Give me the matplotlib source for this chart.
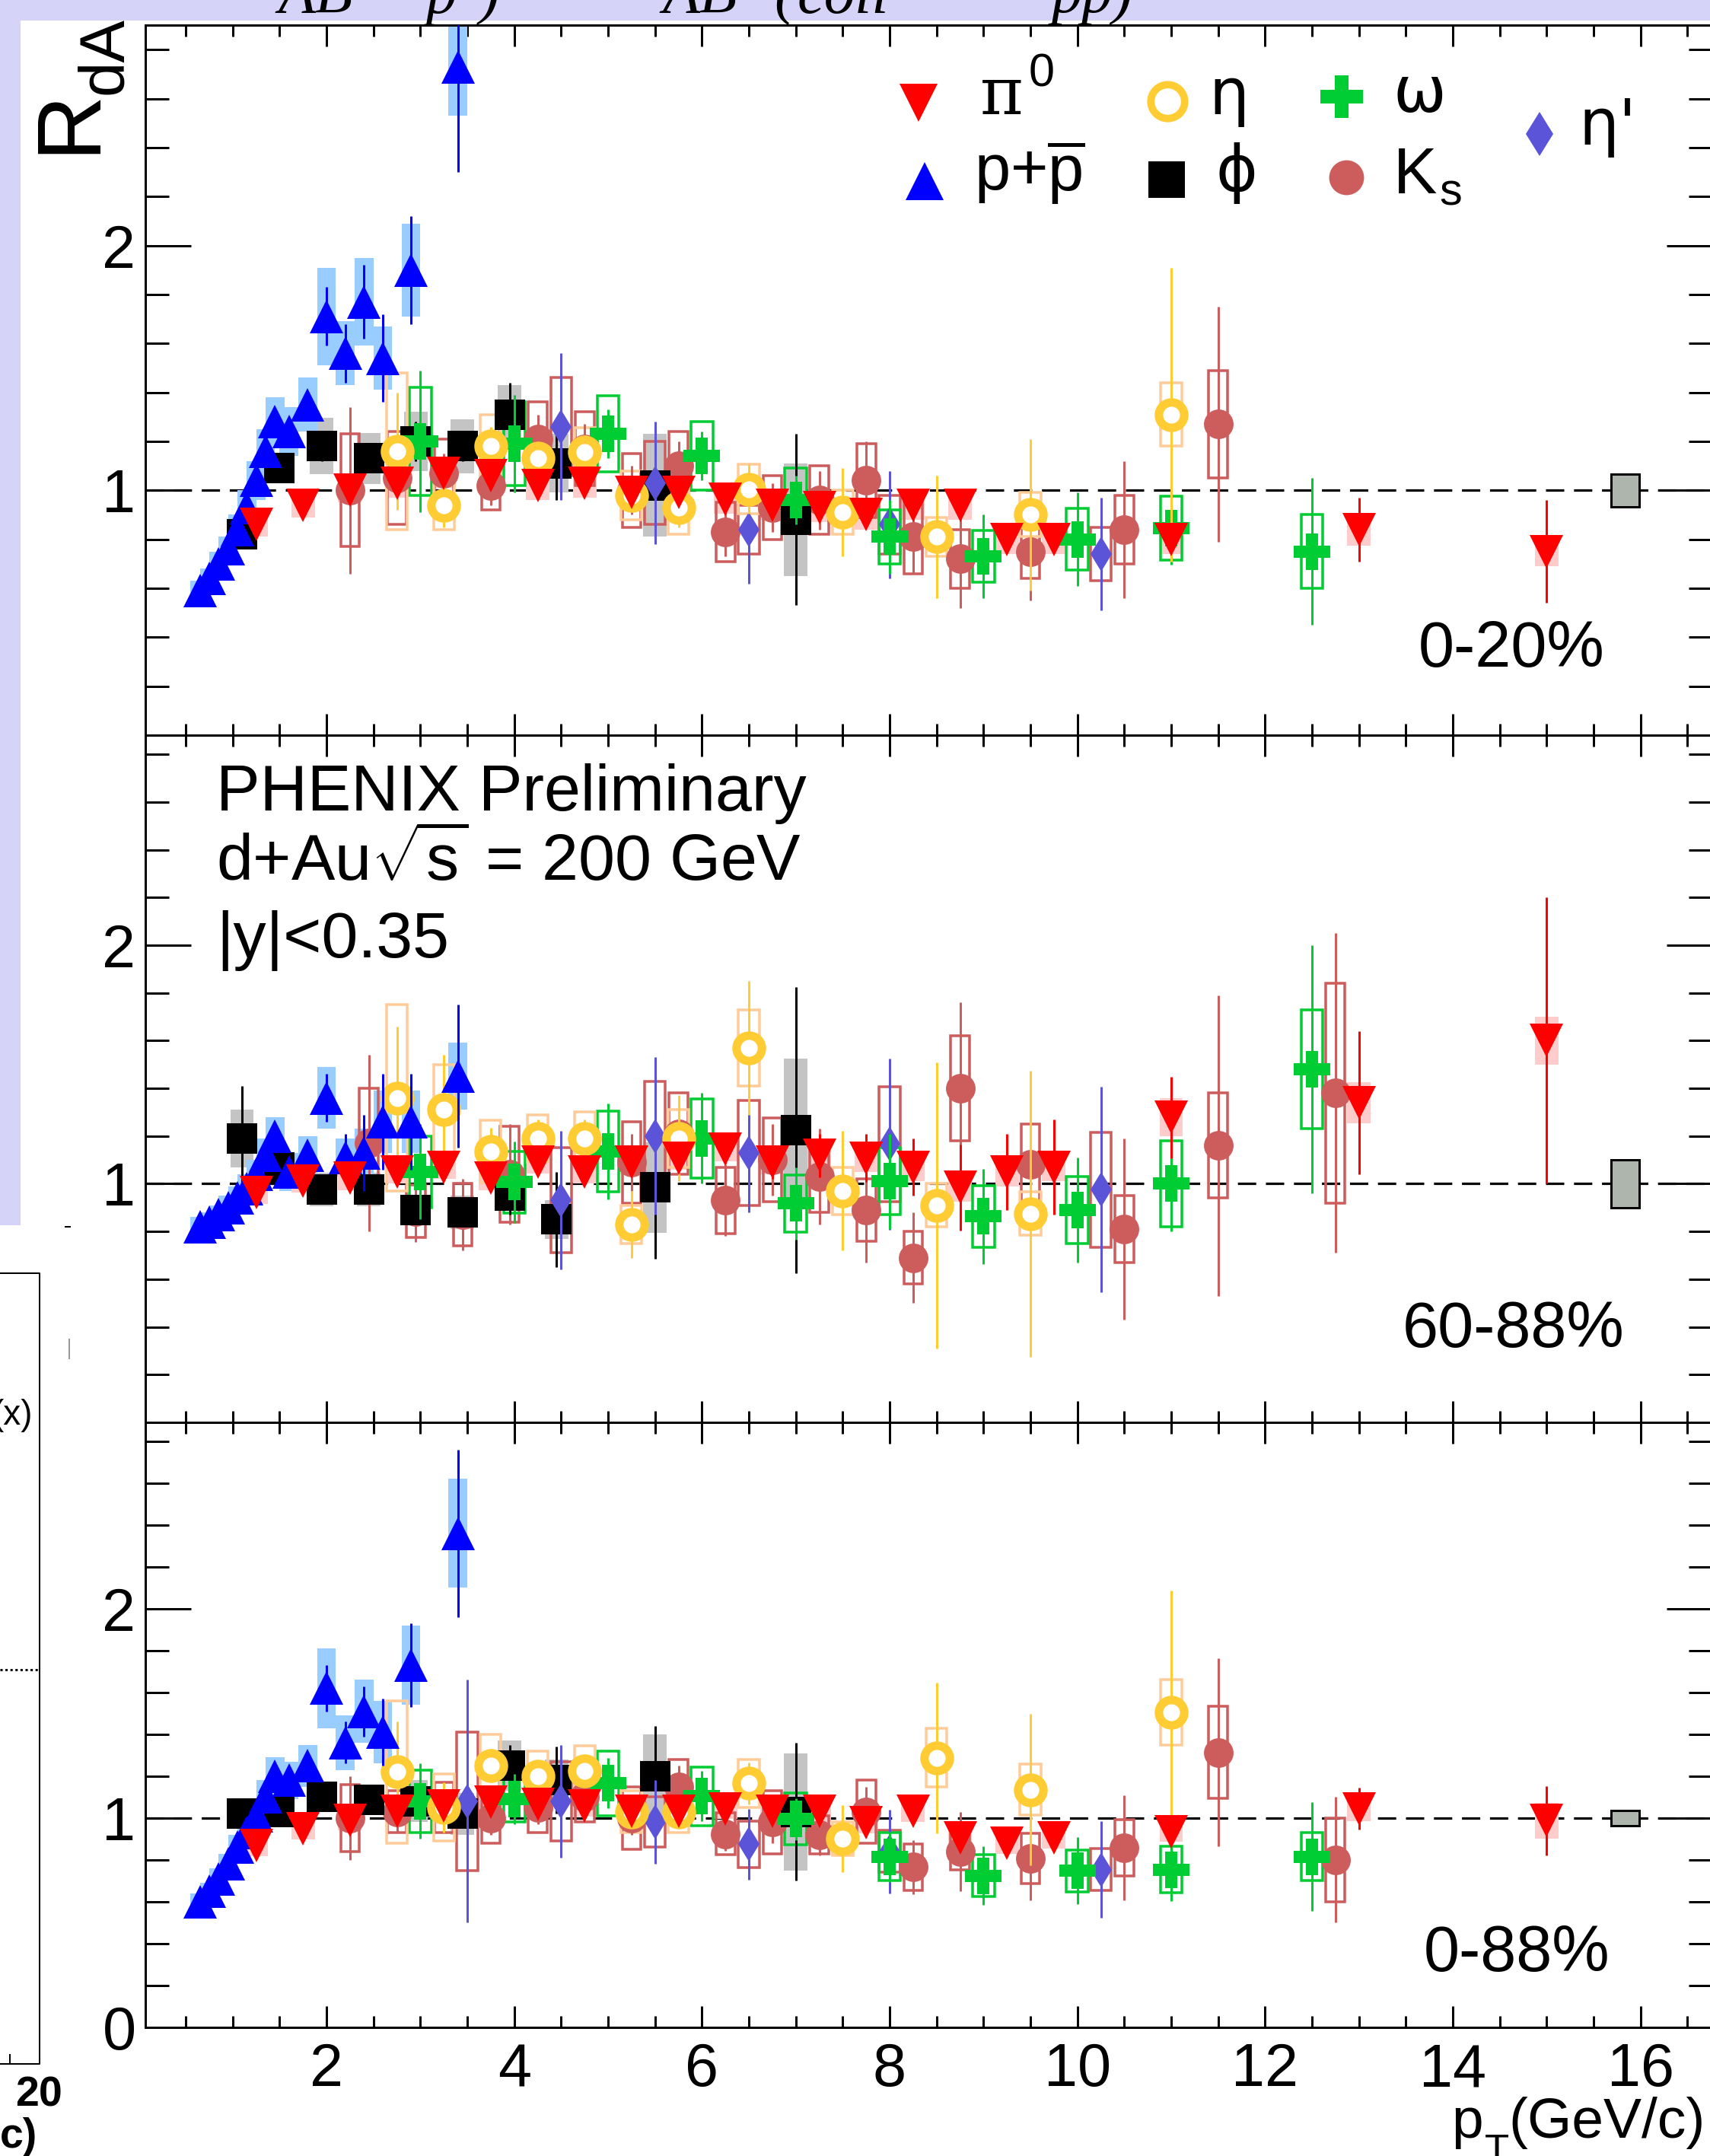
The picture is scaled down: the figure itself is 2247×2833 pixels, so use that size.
import matplotlib
matplotlib.use("Agg")
import matplotlib.pyplot as plt
from matplotlib.patches import Rectangle
from matplotlib.ticker import MultipleLocator, FixedLocator, FixedFormatter

plt.rcParams['font.family'] = ['Liberation Sans', 'DejaVu Sans']
plt.rcParams['mathtext.fontset'] = 'custom'
plt.rcParams['mathtext.rm'] = 'Liberation Sans'
plt.rcParams['mathtext.it'] = 'Liberation Sans:italic'
plt.rcParams['mathtext.bf'] = 'Liberation Sans:bold'

# ============================ DATA ============================
PANEL_LABELS = ["0-20%", "60-88%", "0-88%"]
NORM_PT = 15.84
NORM_UNC = [0.066, 0.10, 0.037]

# pi0
PI0_PT = [1.25, 1.75, 2.25, 2.75, 3.25, 3.75, 4.25, 4.75, 5.25, 5.75, 6.25, 6.75,
          7.25, 7.75, 8.25, 8.75, 9.25, 9.75, 11.0, 13.0, 15.0]
PI0_R_0020 = [0.86, 0.94, 1.00, 1.03, 1.07, 1.06, 1.02, 1.03, 0.99, 0.99, 0.965, 0.94,
              0.93, 0.90, 0.94, 0.94, 0.80, 0.80, 0.80, 0.84, 0.75]
PI0_STAT_0020 = [0.01, 0.01, 0.01, 0.01, 0.01, 0.01, 0.01, 0.01, 0.01, 0.01, 0.02, 0.02,
                 0.02, 0.02, 0.02, 0.03, 0.03, 0.03, 0.05, 0.13, 0.21]
PI0_SYS_0020 = [0.05, 0.05, 0.05, 0.06, 0.06, 0.06, 0.06, 0.06, 0.06, 0.06, 0.06, 0.06,
                0.06, 0.06, 0.06, 0.06, 0.06, 0.06, 0.06, 0.065, 0.06]
PI0_R_6088 = [0.964, 1.012, 1.023, 1.05, 1.07, 1.023, 1.092, 1.05, 1.09, 1.108, 1.145, 1.09,
              1.118, 1.108, 1.07, 0.985, 1.05, 1.07, 1.278, 1.34, 1.60]
PI0_STAT_6088 = [0.01, 0.01, 0.01, 0.02, 0.02, 0.02, 0.03, 0.03, 0.04, 0.05, 0.06, 0.07,
                 0.09, 0.10, 0.12, 0.18, 0.16, 0.20, 0.17, 0.30, 0.60]
PI0_SYS_6088 = [0.05, 0.05, 0.05, 0.05, 0.05, 0.05, 0.05, 0.05, 0.05, 0.05, 0.05, 0.05,
                0.06, 0.06, 0.06, 0.06, 0.06, 0.06, 0.08, 0.085, 0.10]
PI0_R_0088 = [0.869, 0.948, 0.99, 1.033, 1.057, 1.075, 1.064, 1.057, 1.033, 1.033, 1.045, 1.033,
              1.033, 0.978, 1.033, 0.905, 0.88, 0.905, 0.936, 1.045, 0.988]
PI0_STAT_0088 = [0.01, 0.01, 0.01, 0.01, 0.01, 0.01, 0.01, 0.01, 0.01, 0.01, 0.01, 0.02,
                 0.02, 0.02, 0.02, 0.03, 0.03, 0.03, 0.04, 0.10, 0.165]
PI0_SYS_0088 = [0.05, 0.05, 0.05, 0.05, 0.05, 0.05, 0.05, 0.05, 0.05, 0.05, 0.05, 0.05,
                0.05, 0.05, 0.05, 0.05, 0.05, 0.05, 0.05, 0.06, 0.085]

# p + pbar
P_PT = [0.65, 0.75, 0.85, 0.95, 1.05, 1.15, 1.25, 1.35, 1.45, 1.6, 1.8, 2.0, 2.2, 2.4, 2.6, 2.9, 3.4]
P_R_0020 = [0.59, 0.64, 0.70, 0.76, 0.84, 0.93, 1.04, 1.16, 1.28, 1.24, 1.35, 1.71, 1.56, 1.77, 1.54, 1.90, 2.73]
P_STAT_0020 = [0.01, 0.01, 0.01, 0.01, 0.01, 0.01, 0.01, 0.02, 0.02, 0.03, 0.05, 0.12, 0.12, 0.15, 0.18, 0.22, 0.43]
P_SYS_0020 = [0.04, 0.04, 0.05, 0.05, 0.06, 0.07, 0.08, 0.09, 0.10, 0.10, 0.11, 0.20, 0.13, 0.18, 0.13, 0.19, 0.20]
P_R_6088 = [0.82, 0.84, 0.87, 0.90, 0.94, 0.98, 1.04, 1.12, 1.20, 1.05, 1.12, 1.36, 1.11, 1.13, 1.26, 1.26, 1.45]
P_STAT_6088 = [0.01, 0.01, 0.01, 0.01, 0.01, 0.01, 0.02, 0.02, 0.02, 0.03, 0.04, 0.10, 0.10, 0.16, 0.20, 0.20, 0.30]
P_SYS_6088 = [0.04, 0.04, 0.04, 0.05, 0.05, 0.06, 0.06, 0.07, 0.08, 0.08, 0.08, 0.13, 0.08, 0.10, 0.13, 0.13, 0.14]
P_R_0088 = [0.60, 0.65, 0.71, 0.78, 0.86, 0.93, 1.01, 1.10, 1.20, 1.18, 1.25, 1.62, 1.36, 1.51, 1.41, 1.73, 2.36]
P_STAT_0088 = [0.01, 0.01, 0.01, 0.01, 0.01, 0.01, 0.01, 0.02, 0.02, 0.03, 0.04, 0.11, 0.10, 0.12, 0.16, 0.20, 0.40]
P_SYS_0088 = [0.04, 0.04, 0.05, 0.05, 0.06, 0.06, 0.07, 0.08, 0.09, 0.09, 0.10, 0.19, 0.13, 0.15, 0.15, 0.19, 0.26]

# eta
ETA_PT_0020 = [2.75, 3.25, 3.75, 4.25, 4.75, 5.25, 5.75, 6.5, 7.5, 8.5, 9.5, 11.0]
ETA_R_0020 = [1.16, 0.94, 1.18, 1.13, 1.155, 0.98, 0.93, 1.005, 0.91, 0.81, 0.90, 1.31]
ETA_STAT_0020 = [0.24, 0.09, 0.08, 0.06, 0.07, 0.06, 0.08, 0.10, 0.18, 0.25, 0.31, 0.60]
ETA_SYS_0020 = [0.32, 0.10, 0.13, 0.08, 0.10, 0.10, 0.11, 0.10, 0.09, 0.08, 0.09, 0.13]
ETA_PT_6088 = [2.75, 3.25, 3.75, 4.25, 4.75, 5.25, 5.75, 6.5, 7.5, 8.5, 9.5]
ETA_R_6088 = [1.36, 1.31, 1.135, 1.19, 1.19, 0.83, 1.19, 1.57, 0.97, 0.91, 0.875]
ETA_STAT_6088 = [0.30, 0.23, 0.10, 0.08, 0.08, 0.14, 0.18, 0.28, 0.25, 0.60, 0.60]
ETA_SYS_6088 = [0.39, 0.19, 0.13, 0.10, 0.11, 0.08, 0.12, 0.16, 0.10, 0.09, 0.09]
ETA_PT_0088 = [2.75, 3.25, 3.75, 4.25, 4.75, 5.25, 5.75, 6.5, 7.5, 8.5, 9.5, 11.0]
ETA_R_0088 = [1.22, 1.05, 1.25, 1.20, 1.226, 1.03, 1.03, 1.166, 0.90, 1.287, 1.136, 1.505]
ETA_STAT_0088 = [0.24, 0.12, 0.08, 0.06, 0.06, 0.06, 0.08, 0.10, 0.16, 0.36, 0.36, 0.58]
ETA_SYS_0088 = [0.34, 0.16, 0.15, 0.12, 0.12, 0.10, 0.10, 0.115, 0.08, 0.14, 0.12, 0.155]

# phi
PHI_PT = [1.1, 1.5, 1.95, 2.45, 2.95, 3.45, 3.95, 4.45, 5.5, 7.0]
PHI_R_0020 = [0.82, 1.09, 1.18, 1.13, 1.20, 1.18, 1.31, 1.11, 1.02, 0.88]
PHI_STAT_0020 = [0.06, 0.05, 0.06, 0.05, 0.08, 0.06, 0.13, 0.15, 0.18, 0.35]
PHI_SYS_0020 = [0.05, 0.05, 0.115, 0.105, 0.12, 0.11, 0.12, 0.12, 0.21, 0.23]
PHI_R_6088 = [1.19, 1.07, 0.975, 0.975, 0.89, 0.88, 0.95, 0.85, 0.985, 1.225]
PHI_STAT_6088 = [0.22, 0.05, 0.06, 0.06, 0.06, 0.06, 0.08, 0.20, 0.30, 0.60]
PHI_SYS_6088 = [0.12, 0.05, 0.07, 0.07, 0.05, 0.07, 0.06, 0.08, 0.19, 0.30]
PHI_R_0088 = [1.02, 1.03, 1.10, 1.087, 1.08, 1.02, 1.25, 1.18, 1.20, 1.03]
PHI_STAT_0088 = [0.04, 0.04, 0.05, 0.05, 0.06, 0.06, 0.10, 0.16, 0.24, 0.33]
PHI_SYS_0088 = [0.05, 0.05, 0.07, 0.07, 0.10, 0.10, 0.12, 0.10, 0.20, 0.28]

# omega
OMEGA_PT = [3.0, 4.0, 5.0, 6.0, 7.0, 8.0, 9.0, 10.0, 11.0, 12.5]
OMEGA_R_0020 = [1.20, 1.19, 1.23, 1.14, 0.96, 0.81, 0.73, 0.80, 0.845, 0.75]
OMEGA_STAT_0020 = [0.29, 0.20, 0.10, 0.10, 0.10, 0.15, 0.17, 0.19, 0.15, 0.30]
OMEGA_SYS_0020 = [0.22, 0.17, 0.155, 0.14, 0.13, 0.11, 0.105, 0.125, 0.13, 0.15]
OMEGA_R_6088 = [1.05, 1.007, 1.135, 1.19, 0.917, 1.01, 0.863, 0.89, 1.00, 1.48]
OMEGA_STAT_6088 = [0.20, 0.17, 0.20, 0.19, 0.15, 0.20, 0.20, 0.22, 0.20, 0.52]
OMEGA_SYS_6088 = [0.15, 0.13, 0.17, 0.165, 0.12, 0.14, 0.13, 0.14, 0.18, 0.25]
OMEGA_R_0088 = [1.08, 1.09, 1.166, 1.105, 0.996, 0.815, 0.724, 0.748, 0.754, 0.815]
OMEGA_STAT_0088 = [0.18, 0.12, 0.12, 0.12, 0.10, 0.12, 0.14, 0.16, 0.15, 0.26]
OMEGA_SYS_0088 = [0.15, 0.11, 0.155, 0.14, 0.125, 0.115, 0.10, 0.10, 0.11, 0.115]

# K_s
KS_PT_0020 = [2.25, 2.75, 3.25, 3.75, 4.25, 4.75, 5.25, 5.75, 6.25, 6.75, 7.25, 7.75,
              8.25, 8.75, 9.5, 10.5, 11.5]
KS_R_0020 = [1.00, 1.05, 1.07, 1.02, 1.21, 1.17, 1.00, 1.10, 0.83, 0.93, 0.96, 1.04,
             0.81, 0.72, 0.75, 0.84, 1.27]
KS_STAT_0020 = [0.34, 0.10, 0.08, 0.08, 0.10, 0.10, 0.10, 0.10, 0.10, 0.10, 0.12, 0.16,
                0.15, 0.20, 0.20, 0.28, 0.48]
KS_SYS_0020 = [0.23, 0.19, 0.14, 0.10, 0.15, 0.15, 0.15, 0.14, 0.12, 0.13, 0.14, 0.15,
               0.15, 0.12, 0.11, 0.14, 0.22]
KS_PT_6088 = [2.45, 2.95, 3.45, 3.95, 5.25, 5.75, 6.25, 6.75, 7.25, 7.75, 8.25, 8.75,
              9.5, 10.5, 11.5, 12.75]
KS_R_6088 = [1.17, 0.885, 0.87, 1.04, 1.09, 1.21, 0.93, 1.10, 1.03, 0.89, 0.69, 1.40,
             1.08, 0.81, 1.16, 1.38]
KS_STAT_6088 = [0.37, 0.13, 0.15, 0.21, 0.12, 0.15, 0.15, 0.15, 0.20, 0.22, 0.19, 0.36,
                0.30, 0.38, 0.63, 0.67]
KS_SYS_6088 = [0.23, 0.11, 0.13, 0.20, 0.17, 0.17, 0.14, 0.175, 0.15, 0.13, 0.11, 0.22,
               0.17, 0.14, 0.22, 0.46]
KS_PT_0088 = [2.25, 2.75, 3.25, 3.75, 4.25, 4.75, 5.25, 5.75, 6.25, 6.75, 7.25, 7.75,
              8.25, 8.75, 9.5, 10.5, 11.5, 12.75]
KS_R_0088 = [1.00, 1.03, 1.05, 1.00, 1.05, 1.10, 1.00, 1.15, 0.924, 0.98, 0.92, 1.03,
             0.766, 0.839, 0.808, 0.857, 1.314, 0.80]
KS_STAT_0088 = [0.20, 0.10, 0.08, 0.08, 0.08, 0.08, 0.08, 0.10, 0.08, 0.10, 0.10, 0.12,
                0.13, 0.19, 0.20, 0.25, 0.45, 0.30]
KS_SYS_0088 = [0.16, 0.10, 0.12, 0.12, 0.12, 0.12, 0.15, 0.13, 0.10, 0.15, 0.09, 0.15,
               0.11, 0.085, 0.12, 0.135, 0.22, 0.20]

# eta'
ETAP_PT_0020 = [4.5, 5.5, 6.5, 8.0, 10.25]
ETAP_R_0020 = [1.26, 1.03, 0.84, 0.86, 0.74]
ETAP_STAT_0020 = [0.30, 0.25, 0.22, 0.22, 0.23]
ETAP_SYS_0020 = [0.20, 0.17, 0.10, 0.12, 0.11]
ETAP_PT_6088 = [4.5, 5.5, 6.5, 8.0, 10.25]
ETAP_R_6088 = [0.93, 1.20, 1.13, 1.166, 0.975]
ETAP_STAT_6088 = [0.29, 0.33, 0.25, 0.36, 0.43]
ETAP_SYS_6088 = [0.22, 0.23, 0.22, 0.24, 0.24]
ETAP_PT_0088 = [3.5, 4.5, 5.5, 6.5, 8.0, 10.25]
ETAP_R_0088 = [1.08, 1.08, 0.98, 0.875, 0.84, 0.754]
ETAP_STAT_0088 = [0.58, 0.27, 0.20, 0.17, 0.20, 0.23]
ETAP_SYS_0088 = [0.33, 0.19, 0.12, 0.11, 0.10, 0.10]

# ============================ STYLE ============================
W, H = 2247, 2833
DPI = 100
PX = 72.0 / DPI  # points per pixel

STYLES = {
    'ks':    dict(marker='o', ms=28, mfc='#cd5c5c', mec='#cd5c5c', mew=0, ecol='#cd5c5c',
                  box='open', boxcol='#cd5c5c', hw=0.10, z=4),
    'phi':   dict(marker='s', ms=29, mfc='black', mec='black', mew=0, ecol='black',
                  box='fill', boxcol='#c4c4c4', hw=0.125, z=4.2),
    'etap':  dict(marker='d', ms=23, mfc='#5b54d8', mec='#5b54d8', mew=0, ecol='#5b54d8',
                  box='open', boxcol='#cd5c5c', hw=0.11, z=4.4),
    'omega': dict(marker='P', ms=35, mfc='#00cc33', mec='#00cc33', mew=0, ecol='#00cc33',
                  box='open', boxcol='#00cc33', hw=0.115, z=4.6),
    'eta':   dict(marker='o', ms=24, mfc='white', mec='#ffcc33', mew=8.0, ecol='#ffcc33',
                  box='open', boxcol='#ffcc99', hw=0.11, z=4.8),
    'p':     dict(marker='^', ms=31, mfc='#0000ff', mec='#0000ff', mew=0, ecol='#0000ff',
                  box='fill', boxcol='#99ccff', hw=0.10, z=5.0),
    'pi0':   dict(marker='v', ms=32, mfc='#ff0000', mec='#ff0000', mew=0, ecol='#ff0000',
                  box='fill', boxcol='#ffcccc', hw=0.125, z=5.2),
}

PANEL_SERIES = [
    [('ks', KS_PT_0020, KS_R_0020, KS_STAT_0020, KS_SYS_0020),
     ('phi', PHI_PT, PHI_R_0020, PHI_STAT_0020, PHI_SYS_0020),
     ('etap', ETAP_PT_0020, ETAP_R_0020, ETAP_STAT_0020, ETAP_SYS_0020),
     ('omega', OMEGA_PT, OMEGA_R_0020, OMEGA_STAT_0020, OMEGA_SYS_0020),
     ('eta', ETA_PT_0020, ETA_R_0020, ETA_STAT_0020, ETA_SYS_0020),
     ('p', P_PT, P_R_0020, P_STAT_0020, P_SYS_0020),
     ('pi0', PI0_PT, PI0_R_0020, PI0_STAT_0020, PI0_SYS_0020)],
    [('ks', KS_PT_6088, KS_R_6088, KS_STAT_6088, KS_SYS_6088),
     ('phi', PHI_PT, PHI_R_6088, PHI_STAT_6088, PHI_SYS_6088),
     ('etap', ETAP_PT_6088, ETAP_R_6088, ETAP_STAT_6088, ETAP_SYS_6088),
     ('omega', OMEGA_PT, OMEGA_R_6088, OMEGA_STAT_6088, OMEGA_SYS_6088),
     ('eta', ETA_PT_6088, ETA_R_6088, ETA_STAT_6088, ETA_SYS_6088),
     ('p', P_PT, P_R_6088, P_STAT_6088, P_SYS_6088),
     ('pi0', PI0_PT, PI0_R_6088, PI0_STAT_6088, PI0_SYS_6088)],
    [('ks', KS_PT_0088, KS_R_0088, KS_STAT_0088, KS_SYS_0088),
     ('phi', PHI_PT, PHI_R_0088, PHI_STAT_0088, PHI_SYS_0088),
     ('etap', ETAP_PT_0088, ETAP_R_0088, ETAP_STAT_0088, ETAP_SYS_0088),
     ('omega', OMEGA_PT, OMEGA_R_0088, OMEGA_STAT_0088, OMEGA_SYS_0088),
     ('eta', ETA_PT_0088, ETA_R_0088, ETA_STAT_0088, ETA_SYS_0088),
     ('p', P_PT, P_R_0088, P_STAT_0088, P_SYS_0088),
     ('pi0', PI0_PT, PI0_R_0088, PI0_STAT_0088, PI0_SYS_0088)],
]

# panel geometry in pixels (top, bottom) and y upper limit
PANEL_GEOM = [(33, 966, 2.90), (966, 1869, 2.88), (1869, 2664, 2.89)]
AX_LEFT_PX, AX_RIGHT_PX = 191, 2250
XLIM = (0.07, 16.765)
LABEL_POS = [(1864, 876), (1843, 1770), (1871, 2590)]

fig = plt.figure(figsize=(W / DPI, H / DPI), dpi=DPI)
fig.patch.set_facecolor('white')

axes = []
for k, (top, bot, ymax) in enumerate(PANEL_GEOM):
    ax = fig.add_axes([AX_LEFT_PX / W, 1 - bot / H, (AX_RIGHT_PX - AX_LEFT_PX) / W, (bot - top) / H])
    ax.set_xlim(*XLIM)
    ax.set_ylim(0, ymax)
    for s in ax.spines.values():
        s.set_linewidth(3 * PX)
    ax.xaxis.set_major_locator(MultipleLocator(2))
    ax.xaxis.set_minor_locator(MultipleLocator(0.5))
    ax.yaxis.set_major_locator(FixedLocator([0, 1, 2]))
    ax.yaxis.set_minor_locator(MultipleLocator(0.2))
    ax.tick_params(axis='both', which='both', direction='in', top=True, right=True,
                   width=3 * PX, colors='black')
    ax.tick_params(axis='x', which='major', length=28 * PX, labelsize=57, pad=14)
    ax.tick_params(axis='x', which='minor', length=15 * PX)
    ax.tick_params(axis='y', which='major', length=60 * PX, labelsize=57, pad=9)
    ax.tick_params(axis='y', which='minor', length=31 * PX)
    if k < 2:
        ax.yaxis.set_major_formatter(FixedFormatter(['', '1', '2']))
        ax.tick_params(axis='x', labelbottom=False)
    else:
        ax.yaxis.set_major_formatter(FixedFormatter(['0', '1', '2']))
    # reference line at 1
    ax.axhline(1.0, color='black', lw=3.2 * PX, dashes=(7.5, 4), zorder=1.5)
    # normalisation box
    ax.add_patch(Rectangle((NORM_PT - 0.15, 1 - NORM_UNC[k]), 0.30, 2 * NORM_UNC[k],
                           facecolor='#adb5ad', edgecolor='black', lw=3 * PX, zorder=6))
    # systematic boxes (filled first, then open)
    for kind in ('fill', 'open'):
        for name, pt, r, st, sy in PANEL_SERIES[k]:
            sty = STYLES[name]
            if sty['box'] != kind:
                continue
            for xi, yi, si in zip(pt, r, sy):
                if kind == 'fill':
                    ax.add_patch(Rectangle((xi - sty['hw'], yi - si), 2 * sty['hw'], 2 * si,
                                           facecolor=sty['boxcol'], edgecolor='none', zorder=2))
                else:
                    ax.add_patch(Rectangle((xi - sty['hw'], yi - si), 2 * sty['hw'], 2 * si,
                                           facecolor='none', edgecolor=sty['boxcol'],
                                           lw=3.5 * PX, zorder=3))
    # stat errors + markers
    for name, pt, r, st, sy in PANEL_SERIES[k]:
        sty = STYLES[name]
        ax.errorbar(pt, r, yerr=st, fmt='none', ecolor=sty['ecol'], elinewidth=3 * PX,
                    capsize=0, zorder=sty['z'])
        ax.plot(pt, r, ls='none', marker=sty['marker'], ms=sty['ms'], mfc=sty['mfc'],
                mec=sty['mec'], mew=sty['mew'], zorder=sty['z'] + 0.05)
    axes.append(ax)

# ============================ OVERLAY ============================
ov = fig.add_axes([0, 0, 1, 1], zorder=20)
ov.set_xlim(0, W)
ov.set_ylim(H, 0)
ov.axis('off')
ov.patch.set_alpha(0)

LAV = '#d5d3f7'
ov.add_patch(Rectangle((0, 0), W, 27, facecolor=LAV, edgecolor='none', clip_on=False))
ov.add_patch(Rectangle((0, 0), 27, 1610, facecolor=LAV, edgecolor='none', clip_on=False))
# lower edge of the slide formula above the chart (cut by the page edge, as in the source)
serif_it = dict(family='Liberation Serif', style='italic', fontsize=58, color='black')
for xt, txt in [(365, 'AB'), (560, 'p'), (630, ')'), (870, 'AB'), (1017, '('),
                (1048, 'coll'), (1382, 'pp)')]:
    ov.text(xt, 17, txt, ha='left', va='baseline', clip_on=False, **serif_it)

# fragment of neighbouring plot (bottom-left)
ov.plot([0, 52, 52, 0], [1673, 1673, 2712, 2712], color='black', lw=2 * PX, clip_on=False)
ov.plot([0, 52], [2194, 2194], color='black', lw=3 * PX, ls=(0, (1, 1.2)), clip_on=False)
ov.plot([13, 13], [2700, 2712], color='black', lw=2 * PX, clip_on=False)
ov.plot([91, 91], [1760, 1785], color='#999999', lw=2 * PX, clip_on=False)
ov.plot([86, 92], [1612, 1612], color='black', lw=2 * PX, clip_on=False)
ov.text(43, 1872, '(x)', ha='right', va='baseline', fontsize=33, clip_on=False)
ov.text(20, 2768, '20', ha='left', va='baseline', fontsize=40, fontweight='bold', clip_on=False)
ov.text(0, 2822, 'c)', ha='left', va='baseline', fontsize=40, fontweight='bold', clip_on=False)

# y axis title R_dA (rotated)
ov.text(123, 202, 'R', rotation=90, rotation_mode='anchor', ha='left', va='baseline',
        fontsize=86, clip_on=False)
ov.text(160, 124, 'dA', rotation=90, rotation_mode='anchor', ha='left', va='baseline',
        fontsize=60, clip_on=False)

# x axis title
ov.text(1907, 2809, 'p', ha='left', va='baseline', fontsize=54, clip_on=False)
ov.text(1951, 2842, 'T', ha='left', va='baseline', fontsize=38, clip_on=False)
ov.text(1982, 2809, '(GeV/c)', ha='left', va='baseline', fontsize=54, clip_on=False)

# legend
LEG = [
    ('pi0', 1207, 135, 36, None),
    ('eta', 1534, 133, 32, 7.0),
    ('omega', 1763, 127, 41, None),
    ('etap', 2023, 176, 30, None),
    ('p', 1215, 238, 36, None),
    ('phi', 1533, 236, 35, None),
    ('ks', 1769, 233, 33, None),
]
for name, lx, ly, lms, lmew in LEG:
    sty = STYLES[name]
    ov.plot([lx], [ly], ls='none', marker=sty['marker'], ms=lms, mfc=sty['mfc'],
            mec=sty['mec'], mew=(lmew if lmew is not None else sty['mew']), clip_on=False)
ov.text(1288, 150, 'π', family='DejaVu Serif', fontsize=62, ha='left', va='baseline')
ov.text(1352, 114, '0', fontsize=44, ha='left', va='baseline')
ov.text(1588, 150, 'η', family='DejaVu Sans', fontsize=60, ha='left', va='baseline')
ov.text(1831, 147, 'ω', family='DejaVu Sans', fontsize=60, ha='left', va='baseline')
ov.text(2074, 190, "η'", family='DejaVu Sans', fontsize=60, ha='left', va='baseline')
ov.text(1280, 251, r'p+$\overline{\mathrm{p}}$', fontsize=61, ha='left', va='baseline')
ov.text(1598, 251, 'ϕ', family='DejaVu Sans', fontsize=60, ha='left', va='baseline')
ov.text(1831, 254, 'K', fontsize=62, ha='left', va='baseline')
ov.text(1891, 269, 's', fontsize=43, ha='left', va='baseline')

# PHENIX text
ov.text(284, 1065, 'PHENIX Preliminary', fontsize=62, ha='left', va='baseline')
ov.text(284, 1157, r'd+Au$\sqrt{\mathrm{s}}$ = 200 GeV', fontsize=62, ha='left', va='baseline')
ov.text(284, 1258, '|y|<0.35', fontsize=62, ha='left', va='baseline')

# centrality labels
for (lx, ly), lab in zip(LABEL_POS, PANEL_LABELS):
    ov.text(lx, ly, lab, fontsize=61, ha='left', va='baseline')

fig.savefig('out.png', dpi=DPI)
